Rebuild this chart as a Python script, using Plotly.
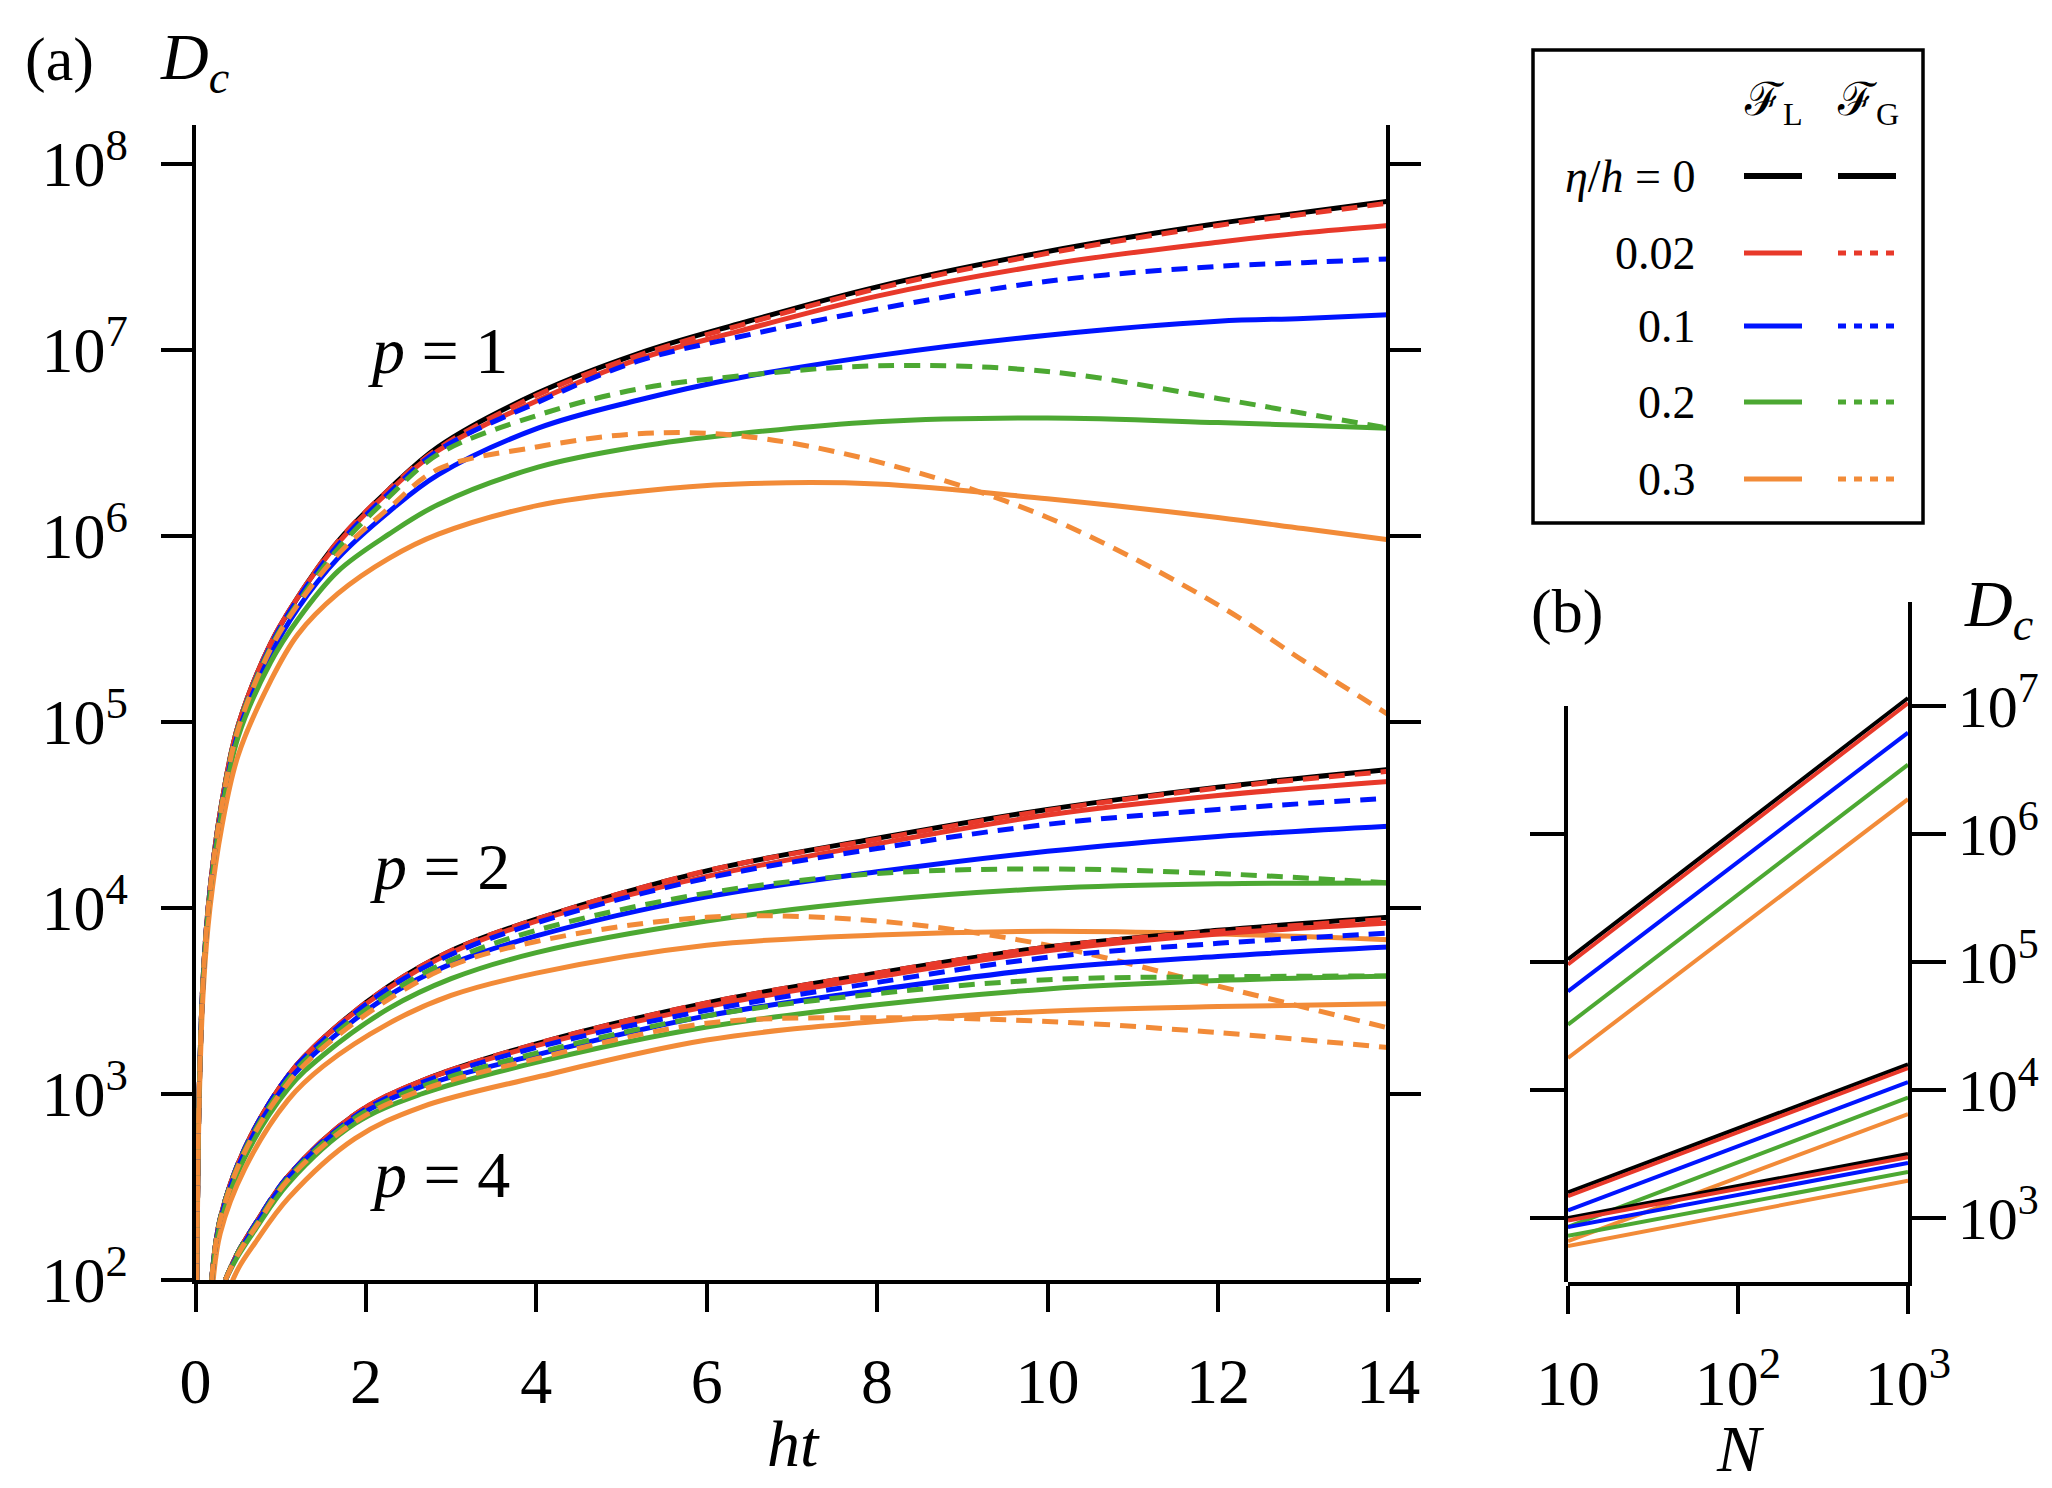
import numpy as np
import plotly.graph_objects as go

# ---- data (values are log10 of D_c) ----
ETA_VALUES = ["0", "0.02", "0.1", "0.2", "0.3"]
COLORS = ["#000000", "#E8392A", "#0014FF", "#4CA832", "#F28B38"]

# panel (a), p = 1
HT_P1 = [0.015, 0.043, 0.094, 0.17, 0.31, 0.5, 0.88, 1.2, 1.67, 2.27, 2.85, 4.02, 5.19, 6.37, 8, 10, 12, 13, 14]
P1_FL = [
    [2.0, 3.0, 3.66, 4.1, 4.57, 4.98, 5.42, 5.67, 5.97, 6.25, 6.48, 6.77, 6.98, 7.14, 7.34, 7.53, 7.68, 7.74, 7.80],
    [2.0, 3.0, 3.66, 4.1, 4.57, 4.98, 5.42, 5.67, 5.96, 6.24, 6.46, 6.73, 6.95, 7.10, 7.29, 7.46, 7.58, 7.63, 7.67],
    [2.0, 3.0, 3.65, 4.08, 4.54, 4.94, 5.36, 5.61, 5.88, 6.13, 6.33, 6.58, 6.73, 6.85, 6.97, 7.08, 7.155, 7.17, 7.19],
    [2.0, 2.99, 3.64, 4.07, 4.52, 4.92, 5.32, 5.55, 5.81, 6.01, 6.17, 6.37, 6.48, 6.55, 6.615, 6.635, 6.61, 6.595, 6.58],
    [1.95, 2.94, 3.58, 4.0, 4.44, 4.82, 5.22, 5.47, 5.69, 5.88, 6.01, 6.165, 6.24, 6.28, 6.28, 6.20, 6.10, 6.04, 5.98],
]
P1_FG = [
    [2.0, 3.0, 3.66, 4.1, 4.57, 4.98, 5.42, 5.67, 5.97, 6.25, 6.48, 6.77, 6.98, 7.14, 7.34, 7.53, 7.68, 7.74, 7.80],
    [2.0, 3.0, 3.66, 4.1, 4.57, 4.98, 5.42, 5.67, 5.97, 6.25, 6.47, 6.76, 6.97, 7.13, 7.33, 7.52, 7.67, 7.73, 7.79],
    [2.0, 3.0, 3.66, 4.1, 4.56, 4.97, 5.41, 5.66, 5.95, 6.23, 6.46, 6.72, 6.94, 7.07, 7.22, 7.37, 7.45, 7.47, 7.49],
    [2.0, 3.0, 3.66, 4.09, 4.56, 4.97, 5.40, 5.64, 5.93, 6.21, 6.44, 6.65, 6.79, 6.86, 6.915, 6.885, 6.74, 6.66, 6.58],
    [2.0, 3.0, 3.65, 4.09, 4.55, 4.96, 5.39, 5.63, 5.90, 6.15, 6.36, 6.48, 6.55, 6.54, 6.40, 6.10, 5.63, 5.33, 5.04],
]

# panel (a), p = 2
HT_P2 = [0.19, 0.29, 0.58, 1.09, 1.5, 2.27, 3.0, 4.0, 6, 8, 10, 12, 14]
P2_FL = [
    [2.0, 2.33, 2.71, 3.10, 3.30, 3.58, 3.77, 3.94, 4.20, 4.375, 4.53, 4.65, 4.745],
    [2.0, 2.33, 2.71, 3.10, 3.30, 3.57, 3.76, 3.93, 4.17, 4.345, 4.50, 4.605, 4.68],
    [2.0, 2.32, 2.69, 3.07, 3.26, 3.53, 3.70, 3.85, 4.06, 4.195, 4.305, 4.385, 4.44],
    [2.0, 2.30, 2.66, 3.03, 3.21, 3.46, 3.62, 3.76, 3.93, 4.04, 4.105, 4.13, 4.135],
    [1.9, 2.25, 2.60, 2.97, 3.15, 3.38, 3.53, 3.65, 3.80, 3.855, 3.875, 3.86, 3.83],
]
P2_FG = [
    [2.0, 2.33, 2.71, 3.10, 3.30, 3.58, 3.77, 3.94, 4.20, 4.375, 4.53, 4.65, 4.745],
    [2.0, 2.33, 2.71, 3.10, 3.30, 3.58, 3.77, 3.94, 4.20, 4.37, 4.525, 4.645, 4.735],
    [2.0, 2.33, 2.71, 3.10, 3.29, 3.57, 3.75, 3.92, 4.16, 4.32, 4.45, 4.53, 4.59],
    [2.0, 2.33, 2.70, 3.08, 3.27, 3.54, 3.72, 3.88, 4.08, 4.185, 4.21, 4.185, 4.135],
    [2.0, 2.32, 2.69, 3.06, 3.25, 3.51, 3.69, 3.82, 3.95, 3.93, 3.80, 3.58, 3.355],
]

# panel (a), p = 4
HT_P4 = [0.35, 0.5, 0.7, 1.09, 1.87, 2.65, 4.0, 6, 8, 10, 12, 14]
P4_FL = [
    [2.0, 2.15, 2.30, 2.56, 2.89, 3.07, 3.27, 3.49, 3.65, 3.79, 3.88, 3.95],
    [2.0, 2.15, 2.30, 2.56, 2.89, 3.07, 3.26, 3.47, 3.63, 3.77, 3.86, 3.92],
    [2.0, 2.14, 2.29, 2.55, 2.87, 3.04, 3.21, 3.42, 3.56, 3.675, 3.74, 3.79],
    [2.0, 2.13, 2.27, 2.52, 2.84, 3.00, 3.17, 3.36, 3.48, 3.565, 3.61, 3.635],
    [1.9, 2.06, 2.20, 2.44, 2.76, 2.93, 3.09, 3.29, 3.39, 3.445, 3.47, 3.485],
]
P4_FG = [
    [2.0, 2.15, 2.30, 2.56, 2.89, 3.07, 3.27, 3.49, 3.65, 3.79, 3.88, 3.95],
    [2.0, 2.15, 2.30, 2.56, 2.89, 3.07, 3.27, 3.49, 3.65, 3.79, 3.875, 3.94],
    [2.0, 2.15, 2.30, 2.56, 2.88, 3.06, 3.25, 3.45, 3.60, 3.735, 3.81, 3.865],
    [2.0, 2.15, 2.29, 2.55, 2.87, 3.04, 3.22, 3.42, 3.54, 3.615, 3.63, 3.635],
    [2.0, 2.14, 2.28, 2.54, 2.85, 3.02, 3.19, 3.38, 3.41, 3.39, 3.33, 3.25],
]

# panel (b): D_c at N = 10 and N = 1000
N_VALUES = [10, 1000]
B_P1 = [[5.02, 7.06], [4.98, 7.02], [4.77, 6.79], [4.51, 6.54], [4.25, 6.27]]
B_P2 = [[3.20, 4.20], [3.17, 4.17], [3.06, 4.06], [2.93, 3.94], [2.82, 3.81]]
B_P4 = [[3.00, 3.50], [2.98, 3.475], [2.93, 3.43], [2.86, 3.36], [2.78, 3.29]]

HT_TICKS = [0, 2, 4, 6, 8, 10, 12, 14]
A_DECADES = [2, 3, 4, 5, 6, 7, 8]
B_DECADES = [3, 4, 5, 6, 7]

# ---- layout helpers (pixel -> paper fraction) ----
W, H = 2052, 1488
SERIF = "Liberation Serif, Times New Roman, DejaVu Serif, serif"


def fx(px):
    return px / W


def fy(py):
    return 1 - py / H


def pow_label(k):
    return "10<sup>%d</sup>" % k


fig = go.Figure()


def add_curve(ht, logd, color, dashed, xa="x", ya="y", width=5):
    fig.add_trace(go.Scatter(
        x=ht, y=10 ** np.array(logd), mode="lines",
        line=dict(color=color, width=width, dash="16px,10px" if dashed else "solid",
                  shape="spline", smoothing=1.0),
        xaxis=xa, yaxis=ya, showlegend=False, hoverinfo="skip",
    ))


# panel (a): solid F_L first, then dashed F_G on top
for ht, fl, fg in [(HT_P1, P1_FL, P1_FG), (HT_P2, P2_FL, P2_FG), (HT_P4, P4_FL, P4_FG)]:
    for i in range(len(ETA_VALUES)):
        add_curve(ht, fl[i], COLORS[i], False)
    for i in range(1, len(ETA_VALUES)):
        add_curve(ht, fg[i], COLORS[i], True)

# invisible trace so the right-hand frame axis of (a) is drawn
fig.add_trace(go.Scatter(x=[1], y=[1e3], xaxis="x", yaxis="y2", mode="markers",
                         marker=dict(opacity=0), showlegend=False, hoverinfo="skip"))

# panel (b)
for group in [B_P1, B_P2, B_P4]:
    for i in range(len(ETA_VALUES)):
        fig.add_trace(go.Scatter(
            x=N_VALUES, y=10 ** np.array(group[i]), mode="lines",
            line=dict(color=COLORS[i], width=4),
            xaxis="x2", yaxis="y4", showlegend=False, hoverinfo="skip",
        ))
fig.add_trace(go.Scatter(x=[100], y=[1e3], xaxis="x2", yaxis="y3", mode="markers",
                         marker=dict(opacity=0), showlegend=False, hoverinfo="skip"))

axis_style = dict(showline=True, linecolor="black", linewidth=3.5, ticks="outside",
                  tickcolor="black", tickwidth=3.5, showgrid=False, zeroline=False,
                  tickfont=dict(family=SERIF, size=64, color="black"))

a_x0, a_x1 = fx(187.5), fx(1411)
a_xmax = 14.36

fig.update_layout(
    width=W, height=H,
    margin=dict(l=0, r=0, t=0, b=0),
    paper_bgcolor="white", plot_bgcolor="white",
    template="none",
    xaxis=dict(domain=[a_x0, a_x1], range=[0, a_xmax], anchor="y",
               tickvals=HT_TICKS, ticklen=28, ticklabelstandoff=14, **axis_style),
    yaxis=dict(domain=[fy(1272), fy(117)], type="log", range=[2, 8.21], anchor="x",
               tickvals=[10 ** k for k in A_DECADES], ticktext=[pow_label(k) for k in A_DECADES],
               ticklen=31, ticklabelstandoff=20, **axis_style),
    yaxis2=dict(type="log", range=[2, 8.21], overlaying="y", side="right", anchor="free",
                position=a_x0 + (a_x1 - a_x0) * 14 / a_xmax,
                tickvals=[10 ** k for k in A_DECADES], showticklabels=False,
                ticklen=31, **axis_style),
    xaxis2=dict(domain=[fx(1560), fx(1900)], type="log", range=[1, 3], anchor="y4",
                tickvals=[10, 100, 1000], ticktext=["10", pow_label(2), pow_label(3)],
                ticklen=28, ticklabelstandoff=14, **axis_style),
    yaxis3=dict(domain=[fy(1274), fy(698)], type="log", range=[2.5, 7.0], anchor="x2",
                side="left", tickvals=[10 ** k for k in [3, 4, 5, 6]], showticklabels=False,
                ticklen=34, **axis_style),
    yaxis4=dict(domain=[fy(1274), fy(594)], type="log", range=[2.5, 7.81], anchor="x2",
                side="right", tickvals=[10 ** k for k in B_DECADES],
                ticktext=[pow_label(k) for k in B_DECADES], ticklen=34,
                **{**axis_style, "tickfont": dict(family=SERIF, size=60, color="black")}),
)

# text labels
def label(text, x, y, size=66, xanchor="center"):
    fig.add_annotation(text=text, x=fx(x), y=fy(y), xref="paper", yref="paper",
                       xanchor=xanchor, yanchor="middle", showarrow=False,
                       font=dict(family=SERIF, size=size, color="black"))


DC = "<i>D</i><sub><i>c</i></sub>"
label("(a)", 51, 52, size=62)
label(DC, 186, 54)
label("<i>p</i> = 1", 430, 343)
label("<i>p</i> = 2", 432, 858)
label("<i>p</i> = 4", 432, 1166)
label("<i>ht</i>", 785, 1435)
label("(b)", 1559, 603, size=62)
label(DC, 1990, 600)
label("<i>N</i>", 1732, 1440)

# legend table
fig.add_shape(type="rect", xref="paper", yref="paper",
              x0=fx(1525), x1=fx(1915), y0=fy(515), y1=fy(42),
              line=dict(color="black", width=3.5), fillcolor="white", layer="below")
label("\u2131<sub>L</sub>", 1765, 95, size=46)
label("\u2131<sub>G</sub>", 1860, 95, size=46)
ROW_Y = [168, 245, 318, 394, 471]
for i, eta in enumerate(ETA_VALUES):
    text = "<i>\u03b7</i>/<i>h</i> = 0" if i == 0 else eta
    label(text, 1690, ROW_Y[i], size=46, xanchor="right")
    w = 6 if i == 0 else 5
    fig.add_shape(type="line", xref="paper", yref="paper",
                  x0=fx(1736), x1=fx(1794), y0=fy(ROW_Y[i]), y1=fy(ROW_Y[i]),
                  line=dict(color=COLORS[i], width=w))
    fig.add_shape(type="line", xref="paper", yref="paper",
                  x0=fx(1830), x1=fx(1888), y0=fy(ROW_Y[i]), y1=fy(ROW_Y[i]),
                  line=dict(color=COLORS[i], width=w, dash="solid" if i == 0 else "8px,8px"))

fig.write_html("out.html")
